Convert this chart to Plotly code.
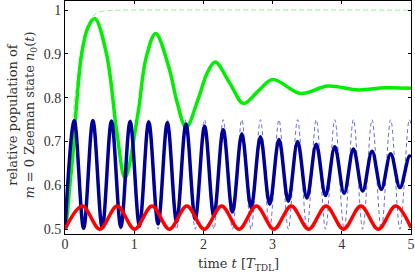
import plotly.graph_objects as go

# values (extrema + a few in-between points), smoothed by spline
t_green = [0, 0.03, 0.07, 0.12, 0.17, 0.24, 0.33, 0.43, 0.6, 0.75, 0.867, 1.05, 1.17, 1.31,
           1.5, 1.62, 1.75, 1.93, 2.05, 2.17, 2.38, 2.58, 2.79, 3.0, 3.4, 3.8, 4.24, 4.62, 5.0]
n_green = [0.5, 0.53, 0.6, 0.68, 0.79, 0.9, 0.96, 0.981, 0.9, 0.72, 0.617, 0.76, 0.89, 0.947,
           0.87, 0.79, 0.732, 0.80, 0.855, 0.882, 0.834, 0.787, 0.815, 0.842, 0.81, 0.827, 0.818, 0.823, 0.822]

t_green_d = [0, 0.1, 0.2, 0.3, 0.4, 0.5, 0.65, 0.8, 5.0]
n_green_d = [0.5, 0.73, 0.87, 0.955, 0.986, 0.996, 0.999, 1.0, 1.0]

t_blue = [0, 0.134, 0.269, 0.403, 0.538, 0.672, 0.807, 0.941, 1.076, 1.210, 1.345, 1.479, 1.613,
          1.748, 1.882, 2.017, 2.151, 2.286, 2.420, 2.555, 2.689, 2.824, 2.958, 3.092, 3.227,
          3.361, 3.496, 3.630, 3.765, 3.899, 4.034, 4.168, 4.302, 4.437, 4.571, 4.706, 4.840,
          4.975, 5.0]
n_blue = [0.5, 0.748, 0.502, 0.748, 0.503, 0.747, 0.505, 0.746, 0.508, 0.745, 0.512, 0.743, 0.517,
          0.740, 0.523, 0.735, 0.530, 0.727, 0.539, 0.718, 0.549, 0.711, 0.557, 0.705, 0.564,
          0.700, 0.571, 0.694, 0.577, 0.688, 0.582, 0.683, 0.587, 0.678, 0.591, 0.672, 0.595,
          0.667, 0.665]
n_blue_d = [0.5, 0.75, 0.5, 0.75, 0.5, 0.75, 0.5, 0.75, 0.5, 0.75, 0.5, 0.75, 0.5,
            0.75, 0.5, 0.75, 0.5, 0.75, 0.5, 0.75, 0.5, 0.75, 0.5, 0.75, 0.5,
            0.75, 0.5, 0.75, 0.5, 0.75, 0.5, 0.75, 0.5, 0.75, 0.5, 0.75, 0.5,
            0.75, 0.74]

t_red = [0, 0.2515, 0.503, 0.7545, 1.006, 1.2575, 1.509, 1.7605, 2.012, 2.2635, 2.515, 2.7665,
         3.018, 3.2695, 3.521, 3.7725, 4.024, 4.2755, 4.527, 4.7785, 5.0]
n_red = [0.5, 0.553, 0.5, 0.553, 0.5, 0.553, 0.5, 0.553, 0.5, 0.553, 0.5, 0.553,
         0.5, 0.553, 0.5, 0.553, 0.5, 0.553, 0.5, 0.553, 0.503]

xticks = [0, 1, 2, 3, 4, 5]
yticks = [0.5, 0.6, 0.7, 0.8, 0.9, 1.0]
ytick_text = ["0.5", "0.6", "0.7", "0.8", "0.9", "1"]

TICKFONT = "Liberation Serif"
TITLEFONT = "DejaVu Serif"

fig = go.Figure()
fig.add_trace(go.Scatter(x=t_green_d, y=n_green_d, mode="lines",
                         line=dict(color="#9be89b", width=1, dash="5px,3px", shape="spline")))
fig.add_trace(go.Scatter(x=t_blue, y=n_blue_d, mode="lines",
                         line=dict(color="#5a5ad6", width=0.9, dash="4px,3px", shape="spline")))
fig.add_trace(go.Scatter(x=t_green, y=n_green, mode="lines",
                         line=dict(color="#00ee00", width=3.5, shape="spline")))
fig.add_trace(go.Scatter(x=t_blue, y=n_blue, mode="lines",
                         line=dict(color="#000099", width=3.5, shape="spline")))
fig.add_trace(go.Scatter(x=t_red, y=n_red, mode="lines",
                         line=dict(color="#ff0000", width=3.5, shape="spline")))

axis_common = dict(showline=True, linecolor="black", linewidth=1, mirror="ticks",
                   ticks="inside", ticklen=3, tickcolor="black", showgrid=False, zeroline=False,
                   tickfont=dict(family=TICKFONT, size=14, color="#333"))

fig.update_xaxes(range=[0, 5], tickvals=xticks, ticklabeloverflow="allow",
                 ticklabelstandoff=-3, **axis_common)
fig.update_yaxes(range=[0.489, 1.021], tickvals=yticks, ticktext=ytick_text, **axis_common)

fig.add_annotation(text="relative population of<br><i>m</i> = 0 Zeeman state <i>n</i><sub>0</sub>(<i>t</i>)",
                   xref="paper", yref="paper", x=-0.123, y=0.51, xanchor="center", yanchor="middle",
                   textangle=-90, showarrow=False,
                   font=dict(family=TITLEFONT, size=13, color="#333"))
fig.add_annotation(text="time <i>t</i> [<i>T</i><sub>TDL</sub>]",
                   xref="paper", yref="paper", x=0.5, y=-0.133, xanchor="center", yanchor="middle",
                   showarrow=False, font=dict(family=TITLEFONT, size=13, color="#333"))

fig.update_layout(width=415, height=274, margin=dict(l=65, r=4, t=1, b=40),
                  plot_bgcolor="white", paper_bgcolor="white", showlegend=False)

# the page's default 8px body margin would shift the whole figure
fig.write_html("out.html", config={"displayModeBar": False},
               post_script="document.body.style.margin='0px';")
